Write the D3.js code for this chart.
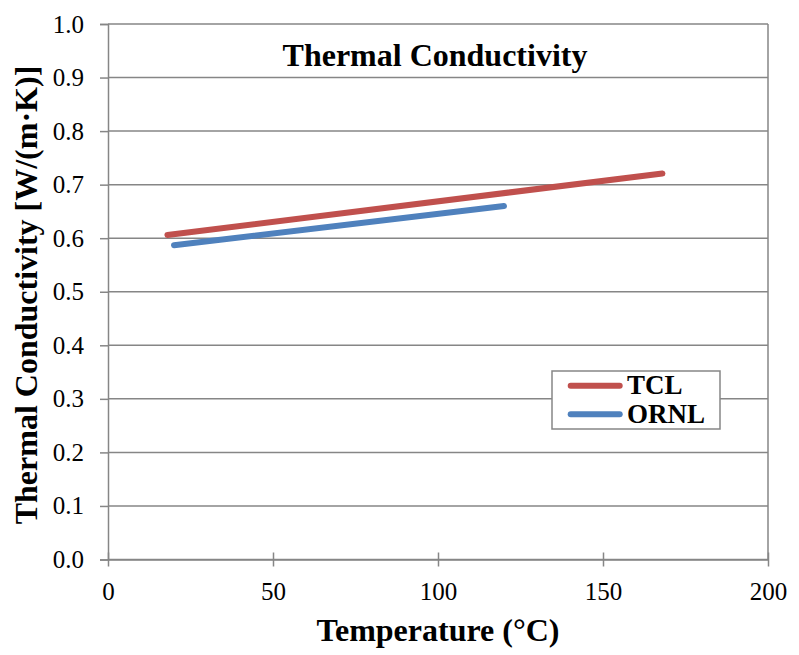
<!DOCTYPE html>
<html>
<head>
<meta charset="utf-8">
<script src="https://cdn.jsdelivr.net/npm/d3@7"></script>
<style>
  body { margin: 0; background: #fff; }
</style>
</head>
<body>
<div id="chart"></div>
<script>
// temperatures (°C) and conductivity values
const tclTemp = [18, 168];
const tclK = [0.606, 0.721];
const ornlTemp = [20, 120];
const ornlK = [0.587, 0.660];
const xTicks = [0, 50, 100, 150, 200];
const yTicks = [0, 0.1, 0.2, 0.3, 0.4, 0.5, 0.6, 0.7, 0.8, 0.9, 1.0];
const seriesNames = ["TCL", "ORNL"];
const seriesColors = ["#c0504d", "#4f81bd"];

const W = 799, H = 655;
const m = { left: 108, right: 31, top: 24, bottom: 95.5 };
const serif = "'Liberation Serif', 'Times New Roman', serif";

const svg = d3.select("#chart").append("svg").attr("width", W).attr("height", H);

const x = d3.scaleLinear().domain([0, 200]).range([m.left, W - m.right]);
const y = d3.scaleLinear().domain([0, 1]).range([H - m.bottom, m.top]);

const grey = "#868686";

// gridlines
svg.append("g").selectAll("line").data(yTicks).enter().append("line")
  .attr("x1", m.left).attr("x2", W - m.right)
  .attr("y1", d => y(d)).attr("y2", d => y(d))
  .attr("stroke", grey).attr("stroke-width", 1.5);

// right border
svg.append("line")
  .attr("x1", W - m.right).attr("x2", W - m.right)
  .attr("y1", m.top).attr("y2", H - m.bottom)
  .attr("stroke", grey).attr("stroke-width", 1.5);

// y axis
const yAxis = svg.append("g").attr("transform", `translate(${m.left},0)`)
  .call(d3.axisLeft(y).tickValues(yTicks).tickFormat(d3.format(".1f")).tickSize(8).tickPadding(16));
yAxis.attr("font-family", serif);
yAxis.select(".domain").attr("stroke", grey).attr("stroke-width", 1.5);
yAxis.selectAll(".tick line").attr("stroke", grey).attr("stroke-width", 1.5);
yAxis.selectAll("text").style("font-family", serif).style("font-size", "25px").attr("fill", "#000");

// x axis
const xAxis = svg.append("g").attr("transform", `translate(0,${H - m.bottom})`)
  .call(d3.axisBottom(x).tickValues(xTicks).tickSizeInner(7).tickSizeOuter(0).tickPadding(16));
xAxis.attr("font-family", serif);
xAxis.select(".domain").attr("stroke", grey).attr("stroke-width", 1.5);
xAxis.selectAll(".tick line").attr("y1", -7).attr("stroke", grey).attr("stroke-width", 1.5);
xAxis.selectAll("text").style("font-family", serif).style("font-size", "25px").attr("fill", "#000");

// series
const line = d3.line().x(d => x(d[0])).y(d => y(d[1]));
const series = [d3.zip(tclTemp, tclK), d3.zip(ornlTemp, ornlK)];
svg.append("g").selectAll("path").data(series).enter().append("path")
  .attr("d", line)
  .attr("fill", "none")
  .attr("stroke", (d, i) => seriesColors[i])
  .attr("stroke-width", 6)
  .attr("stroke-linecap", "round");

function label(sel, size) {
  return sel.style("font-family", serif).style("font-size", size + "px")
    .style("font-weight", "bold").attr("text-anchor", "middle");
}

// title
label(svg.append("text").attr("x", 435).attr("y", 66), 32).text("Thermal Conductivity");

// axis titles
label(svg.append("text").attr("x", 438).attr("y", 641), 32).text("Temperature (°C)");
label(svg.append("text")
  .attr("transform", "translate(37,295) rotate(-90)"), 32)
  .text("Thermal Conductivity [W/(m·K)]");

// legend
const lg = svg.append("g").attr("transform", "translate(552,371)");
lg.append("rect").attr("width", 168).attr("height", 58)
  .attr("fill", "#fff").attr("stroke", grey).attr("stroke-width", 1.5);
const items = lg.selectAll("g").data(seriesNames).enter().append("g")
  .attr("transform", (d, i) => `translate(0,${14.7 + i * 28.6})`);
items.append("line").attr("x1", 18.7).attr("x2", 67.7)
  .attr("stroke", (d, i) => seriesColors[i]).attr("stroke-width", 6).attr("stroke-linecap", "round");
items.append("text").attr("x", 75).attr("y", 8.5)
  .style("font-family", serif).style("font-size", "27px").style("font-weight", "bold").text(d => d);
</script>
</body>
</html>
